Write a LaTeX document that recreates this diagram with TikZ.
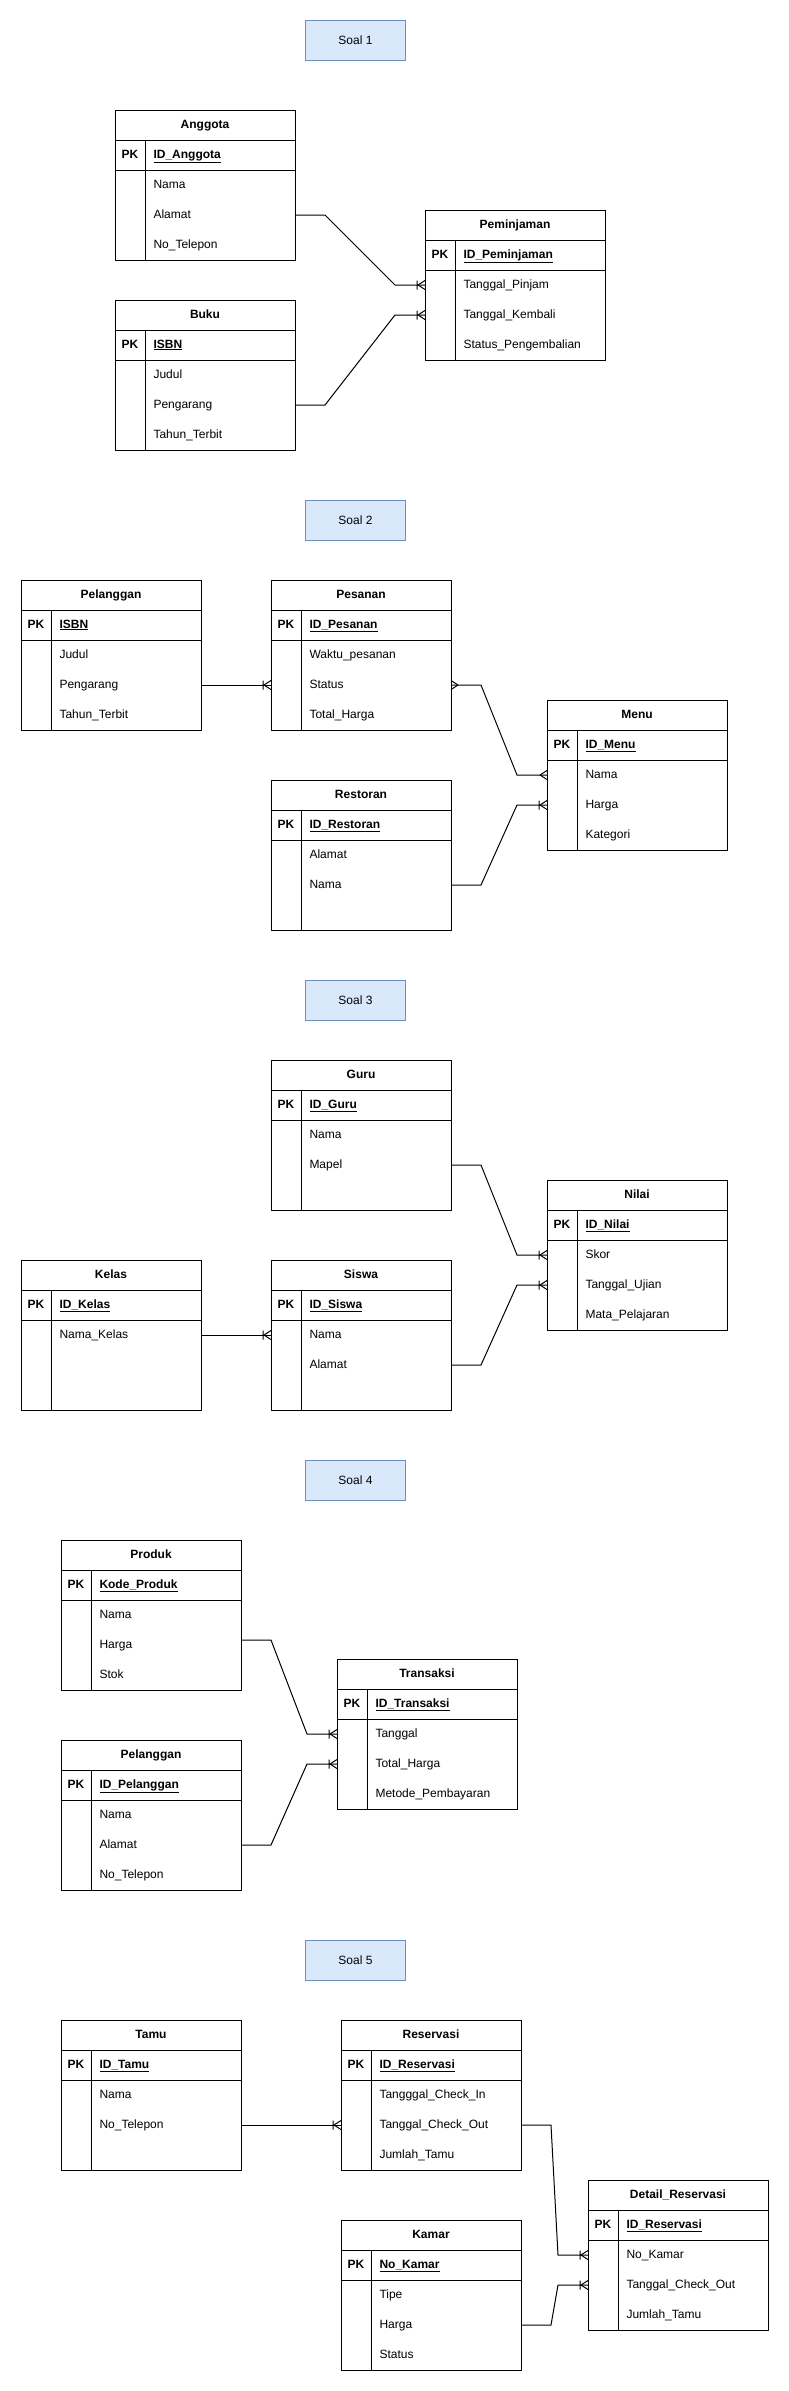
\documentclass[tikz,border=0pt]{standalone}
\usepackage{fontspec}
\setmainfont{Liberation Sans}
\usetikzlibrary{positioning,calc}

\definecolor{soalfill}{HTML}{DAE8FC}
\definecolor{soalline}{HTML}{6C8EBF}

% entity box: name, top left corner (x,y), title, key, three fields
\newcommand{\ertable}[8]{%
  \node[tbl] (#1) at (#2,#3) {};
  \draw (#1.north west) ++(0,30) -- ++(180,0) ++(-180,30) -- ++(180,0);
  \draw (#1.north west) ++(30,30) -- ++(0,120);
  \node[ttl] (#1-t) at ($(#1.north west)+(90,15)$) {#4};
  \node[pk] (#1-p) at ($(#1.north west)+(15,45)$) {PK};
  \node[fld, font=\fontsize{12}{14}\selectfont\bfseries] (#1-k) at ($(#1.north west)+(38,45)$) {\underline{#5}};
  \node[fld] (#1-a) at ($(#1.north west)+(38,75)$) {#6};
  \node[fld] (#1-b) at ($(#1.north west)+(38,105)$) {#7};
  \node[fld] (#1-c) at ($(#1.north west)+(38,135)$) {#8};
}

\begin{document}
\begin{tikzpicture}[x=1pt, y=-1pt, line width=1pt,
    font=\fontsize{12}{14}\selectfont,
    soal/.style={draw=soalline, fill=soalfill, anchor=north west,
      minimum width=100pt, minimum height=40pt, inner sep=0pt},
    tbl/.style={draw, anchor=north west, minimum width=180pt,
      minimum height=150pt, inner sep=0pt, outer sep=0pt},
    ttl/.style={font=\fontsize{12}{14}\selectfont\bfseries, inner sep=0pt,
      text height=8.6pt, text depth=2.6pt},
    pk/.style={font=\fontsize{12}{14}\selectfont\bfseries, inner sep=0pt,
      text height=8.6pt, text depth=2.6pt},
    fld/.style={anchor=west, inner sep=0pt, text height=8.6pt, text depth=2.6pt},
    onemany/.pic={\draw (-7,0) -- (0,-4.5) (-7,0) -- (0,4.5) (-8,-4.5) -- (-8,4.5);},
    many/.pic={\draw (-7,0) -- (0,-4.5) (-7,0) -- (0,4.5);}]

  \useasboundingbox (0,0) rectangle (788,2391);

  % Soal 1
  \node[soal] (soal1) at (305,20) {Soal 1};
  \ertable{ang}{115}{110}{Anggota}{ID\_Anggota}{Nama}{Alamat}{No\_Telepon}
  \ertable{pem}{425}{210}{Peminjaman}{ID\_Peminjaman}{Tanggal\_Pinjam}{Tanggal\_Kembali}{Status\_Pengembalian}
  \ertable{buku}{115}{300}{Buku}{ISBN}{Judul}{Pengarang}{Tahun\_Terbit}

  \draw (ang-b -| ang.east) -- ++(30,0) -- ($(pem-a -| pem.west)+(-30,0)$) -- (pem-a -| pem.west);
  \draw (buku-b -| buku.east) -- ++(30,0) -- ($(pem-b -| pem.west)+(-30,0)$) -- (pem-b -| pem.west);
  \pic at (pem-a -| pem.west) {onemany};
  \pic at (pem-b -| pem.west) {onemany};

  % Soal 2
  \node[soal] (soal2) at (305,500) {Soal 2};
  \ertable{plg2}{21}{580}{Pelanggan}{ISBN}{Judul}{Pengarang}{Tahun\_Terbit}
  \ertable{psn}{271}{580}{Pesanan}{ID\_Pesanan}{Waktu\_pesanan}{Status}{Total\_Harga}
  \ertable{menu}{547}{700}{Menu}{ID\_Menu}{Nama}{Harga}{Kategori}
  \ertable{rst}{271}{780}{Restoran}{ID\_Restoran}{Alamat}{Nama}{}

  \draw (plg2-b -| plg2.east) -- (psn-b -| psn.west);
  \pic at (psn-b -| psn.west) {onemany};
  \draw (psn-b -| psn.east) -- ++(30,0) -- ($(menu-a -| menu.west)+(-30,0)$) -- (menu-a -| menu.west);
  \pic[rotate=180] at (psn-b -| psn.east) {many};
  \pic at (menu-a -| menu.west) {many};
  \draw (rst-b -| rst.east) -- ++(30,0) -- ($(menu-b -| menu.west)+(-30,0)$) -- (menu-b -| menu.west);
  \pic at (menu-b -| menu.west) {onemany};

  % Soal 3
  \node[soal] (soal3) at (305,980) {Soal 3};
  \ertable{guru}{271}{1060}{Guru}{ID\_Guru}{Nama}{Mapel}{}
  \ertable{nilai}{547}{1180}{Nilai}{ID\_Nilai}{Skor}{Tanggal\_Ujian}{Mata\_Pelajaran}
  \ertable{kelas}{21}{1260}{Kelas}{ID\_Kelas}{Nama\_Kelas}{}{}
  \ertable{siswa}{271}{1260}{Siswa}{ID\_Siswa}{Nama}{Alamat}{}

  \draw (guru-b -| guru.east) -- ++(30,0) -- ($(nilai-a -| nilai.west)+(-30,0)$) -- (nilai-a -| nilai.west);
  \draw (siswa-b -| siswa.east) -- ++(30,0) -- ($(nilai-b -| nilai.west)+(-30,0)$) -- (nilai-b -| nilai.west);
  \draw (kelas-a -| kelas.east) -- (siswa-a -| siswa.west);
  \pic at (nilai-a -| nilai.west) {onemany};
  \pic at (nilai-b -| nilai.west) {onemany};
  \pic at (siswa-a -| siswa.west) {onemany};

  % Soal 4
  \node[soal] (soal4) at (305,1460) {Soal 4};
  \ertable{prod}{61}{1540}{Produk}{Kode\_Produk}{Nama}{Harga}{Stok}
  \ertable{plg4}{61}{1740}{Pelanggan}{ID\_Pelanggan}{Nama}{Alamat}{No\_Telepon}
  \ertable{trx}{337}{1659}{Transaksi}{ID\_Transaksi}{Tanggal}{Total\_Harga}{Metode\_Pembayaran}

  \draw ($(prod-b -| prod.east)+(0,-5)$) -- ++(30,0) -- ($(trx-a -| trx.west)+(-30,0)$) -- (trx-a -| trx.west);
  \draw (plg4-b -| plg4.east) -- ++(30,0) -- ($(trx-b -| trx.west)+(-30,0)$) -- (trx-b -| trx.west);
  \pic at (trx-a -| trx.west) {onemany};
  \pic at (trx-b -| trx.west) {onemany};

  % Soal 5
  \node[soal] (soal5) at (305,1940) {Soal 5};
  \ertable{tamu}{61}{2020}{Tamu}{ID\_Tamu}{Nama}{No\_Telepon}{}
  \ertable{res}{341}{2020}{Reservasi}{ID\_Reservasi}{Tangggal\_Check\_In}{Tanggal\_Check\_Out}{Jumlah\_Tamu}
  \ertable{det}{588}{2180}{Detail\_Reservasi}{ID\_Reservasi}{No\_Kamar}{Tanggal\_Check\_Out}{Jumlah\_Tamu}
  \ertable{kmr}{341}{2220}{Kamar}{No\_Kamar}{Tipe}{Harga}{Status}

  \draw (tamu-b -| tamu.east) -- (res-b -| res.west);
  \pic at (res-b -| res.west) {onemany};
  \draw (res-b -| res.east) -- ++(30,0) -- ($(det-a -| det.west)+(-30,0)$) -- (det-a -| det.west);
  \draw (kmr-b -| kmr.east) -- ++(30,0) -- ($(det-b -| det.west)+(-30,0)$) -- (det-b -| det.west);
  \pic at (det-a -| det.west) {onemany};
  \pic at (det-b -| det.west) {onemany};
\end{tikzpicture}
\end{document}
